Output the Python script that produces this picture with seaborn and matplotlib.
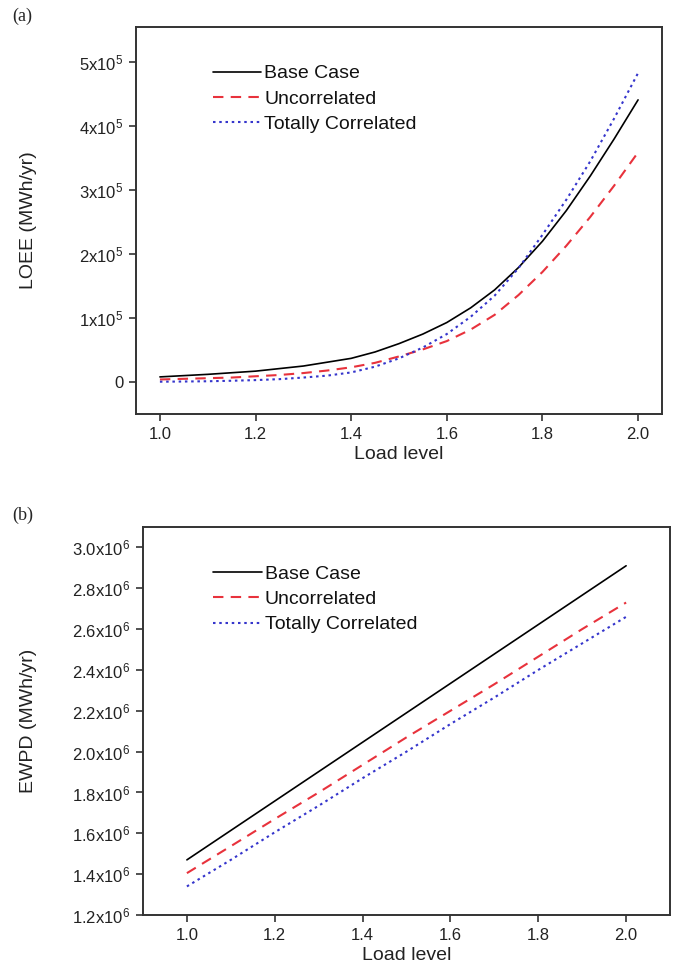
import matplotlib
matplotlib.use("Agg")
import matplotlib.pyplot as plt
import seaborn as sns
import numpy as np
from matplotlib.ticker import FixedLocator, FuncFormatter

# Load levels
load_a = [1.00, 1.05, 1.10, 1.15, 1.20, 1.25, 1.30, 1.35, 1.40, 1.45, 1.50,
          1.55, 1.60, 1.65, 1.70, 1.75, 1.80, 1.85, 1.90, 1.95, 2.00]
load_b = [1.0, 1.1, 1.2, 1.3, 1.4, 1.5, 1.6, 1.7, 1.8, 1.9, 2.0]

# (a) LOEE in units of 1e5 MWh/yr
loee_base = [0.08, 0.10, 0.12, 0.145, 0.17, 0.21, 0.25, 0.31, 0.37, 0.47, 0.60,
             0.75, 0.93, 1.16, 1.44, 1.79, 2.20, 2.68, 3.22, 3.80, 4.41]
loee_uncorr = [0.04, 0.05, 0.06, 0.07, 0.09, 0.11, 0.14, 0.18, 0.23, 0.30, 0.40,
               0.51, 0.64, 0.82, 1.05, 1.36, 1.72, 2.13, 2.58, 3.07, 3.59]
loee_corr = [0.005, 0.008, 0.012, 0.02, 0.03, 0.045, 0.07, 0.10, 0.15, 0.24, 0.37,
             0.54, 0.75, 1.02, 1.35, 1.78, 2.30, 2.85, 3.45, 4.12, 4.83]

# (b) EWPD in units of 1e6 MWh/yr
ewpd_base = [1.47, 1.614, 1.758, 1.902, 2.046, 2.19, 2.334, 2.478, 2.622, 2.766, 2.91]
ewpd_uncorr = [1.405, 1.537, 1.67, 1.80, 1.935, 2.07, 2.20, 2.33, 2.465, 2.60, 2.73]
ewpd_corr = [1.34, 1.47, 1.605, 1.735, 1.87, 2.00, 2.135, 2.265, 2.40, 2.53, 2.66]

series_names = ["Base Case", "Uncorrelated", "Totally Correlated"]
x_ticks = [1.0, 1.2, 1.4, 1.6, 1.8, 2.0]
a_yticks = [0, 1, 2, 3, 4, 5]
b_yticks = [1.2, 1.4, 1.6, 1.8, 2.0, 2.2, 2.4, 2.6, 2.8, 3.0]

sns.set_theme(style="ticks")
plt.rcParams['font.family'] = ['Liberation Sans', 'DejaVu Sans']
plt.rcParams['mathtext.fontset'] = 'custom'
plt.rcParams['mathtext.rm'] = 'Liberation Sans'
plt.rcParams['mathtext.it'] = 'Liberation Sans'
plt.rcParams['mathtext.bf'] = 'Liberation Sans'

styles = [
    dict(color="black", linestyle="-", linewidth=1.2),
    dict(color="#e8323c", linestyle=(0, (5, 3.5)), linewidth=1.5),
    dict(color="#3535cc", linestyle=(0, (1.2, 1.8)), linewidth=1.5),
]

fig = plt.figure(figsize=(6.77, 9.73), dpi=100)
ax_a = fig.add_axes([0.2009, 0.5745, 0.7769, 0.3978])
ax_b = fig.add_axes([0.2112, 0.0596, 0.7785, 0.3988])

def style_axes(ax):
    for sp in ax.spines.values():
        sp.set_visible(True)
        sp.set_color("#333333")
        sp.set_linewidth(1.4)
    ax.tick_params(direction="out", length=5, width=1.2, color="#333333",
                   labelsize=12, labelcolor="#222222", pad=4)
    ax.xaxis.set_major_locator(FixedLocator(x_ticks))
    ax.xaxis.set_major_formatter(FuncFormatter(lambda v, p: f"{v:.1f}"))
    ax.set_xlabel("Load level", fontsize=14, color="#222222", labelpad=3)

# panel (a)
for vals, name, st in zip([loee_base, loee_uncorr, loee_corr], series_names, styles):
    sns.lineplot(x=load_a, y=np.array(vals) * 1e5, ax=ax_a, label=name, **st)
ax_a.set_xlim(0.95, 2.05)
ax_a.set_ylim(-0.5e5, 5.55e5)
ax_a.yaxis.set_major_locator(FixedLocator([t * 1e5 for t in a_yticks]))
ax_a.yaxis.set_major_formatter(FuncFormatter(
    lambda v, p: "0" if abs(v) < 1 else f"{v/1e5:.0f}x10$^{{5}}$"))
style_axes(ax_a)
ax_a.set_ylabel("LOEE (MWh/yr)", fontsize=14, color="#222222")
ax_a.yaxis.set_label_coords(-0.188, 0.5)

# panel (b)
for vals, name, st in zip([ewpd_base, ewpd_uncorr, ewpd_corr], series_names, styles):
    sns.lineplot(x=load_b, y=np.array(vals) * 1e6, ax=ax_b, label=name, **st)
ax_b.set_xlim(0.9, 2.1)
ax_b.set_ylim(1.2e6, 3.1e6)
ax_b.yaxis.set_major_locator(FixedLocator([t * 1e6 for t in b_yticks]))
ax_b.yaxis.set_major_formatter(FuncFormatter(lambda v, p: f"{v/1e6:.1f}x10$^{{6}}$"))
style_axes(ax_b)
ax_b.set_ylabel("EWPD (MWh/yr)", fontsize=14, color="#222222")
ax_b.yaxis.set_label_coords(-0.201, 0.5)

for ax, anchor in [(ax_a, (0.146, 0.902)), (ax_b, (0.133, 0.902))]:
    ax.legend(loc="upper left", bbox_to_anchor=anchor, frameon=False, fontsize=14,
              handlelength=2.5, handletextpad=0.15, labelspacing=0.4,
              borderaxespad=0, borderpad=0, labelcolor="#111111")

fig.text(0.018, 0.983, "(a)", family=["Liberation Serif"], fontsize=13, va="center")
fig.text(0.018, 0.470, "(b)", family=["Liberation Serif"], fontsize=13, va="center")

fig.savefig("out.png", dpi=100)
